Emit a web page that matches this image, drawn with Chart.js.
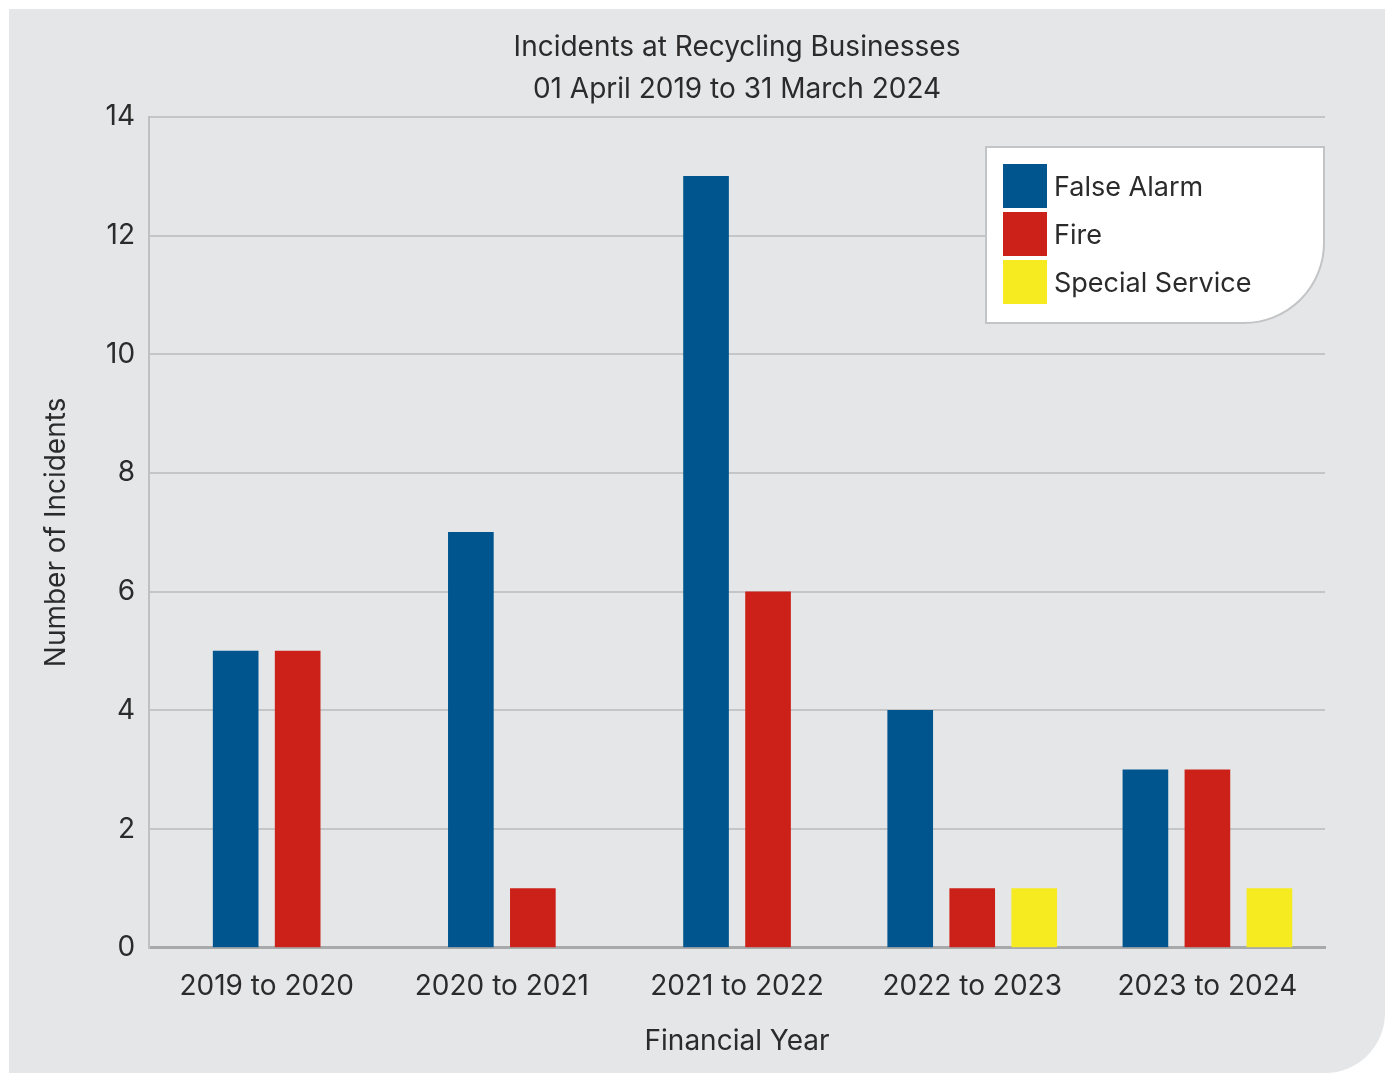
<!DOCTYPE html>
<html>
<head>
<meta charset="utf-8">
<script src="https://cdn.jsdelivr.net/npm/chart.js@4"></script>
<style>
  body { margin: 0; background: #ffffff; }
  #panel {
    position: absolute; left: 9px; top: 9px; width: 1376px; height: 1064px;
    background: #e5e6e8; border-bottom-right-radius: 60px; overflow: hidden;
  }
</style>
</head>
<body>
<div id="panel"><canvas id="myChart"></canvas></div>
<script>
var years = ['2019 to 2020', '2020 to 2021', '2021 to 2022', '2022 to 2023', '2023 to 2024'];
var false_alarm = [5, 7, 13, 4, 3];
var fire = [5, 1, 6, 1, 3];
var special_service = [null, null, null, 1, 1];
var series_names = ['False Alarm', 'Fire', 'Special Service'];
var series_colours = ['#00558e', '#cc2119', '#f5eb20'];
var title_lines = ['Incidents at Recycling Businesses', '01 April 2019 to 31 March 2024'];

var font_family = 'Inter, Roboto, sans-serif';
var text_colour = '#2b2b2b';

// legend drawn as a white box with a rounded bottom-right corner
var boxLegend = {
    id: 'boxLegend',
    afterDraw: function(chart) {
        var ctx = chart.ctx;
        var area = chart.chartArea;
        var w = 338, h = 176;
        var x = area.right - w - 1, y = area.top + 30;
        ctx.save();
        ctx.beginPath();
        ctx.roundRect(x, y, w, h, [0, 0, 80, 0]);
        ctx.fillStyle = '#ffffff';
        ctx.fill();
        ctx.lineWidth = 2;
        ctx.strokeStyle = '#c3c4c6';
        ctx.stroke();
        ctx.font = '27px ' + font_family;
        ctx.textBaseline = 'middle';
        for (var i = 0; i < series_names.length; i++) {
            var sy = y + 17 + i * 48;
            ctx.fillStyle = series_colours[i];
            ctx.fillRect(x + 17, sy, 44, 44);
            ctx.fillStyle = text_colour;
            ctx.fillText(series_names[i], x + 68, sy + 24);
        }
        ctx.restore();
    }
};

var ctx = document.getElementById('myChart').getContext('2d');
var chart = new Chart(ctx, {
    type: 'bar',
    data: {
        labels: years,
        datasets: [
            { label: series_names[0], data: false_alarm, backgroundColor: series_colours[0] },
            { label: series_names[1], data: fire, backgroundColor: series_colours[1] },
            { label: series_names[2], data: special_service, backgroundColor: series_colours[2] }
        ]
    },
    options: {
        responsive: true,
        maintainAspectRatio: false,
        animation: false,
        skipNull: true,
        barThickness: 62,
        maxBarThickness: 45,
        layout: { padding: { left: 27, right: 60, bottom: 11, top: 0 } },
        plugins: {
            legend: { display: false },
            tooltip: { enabled: false },
            title: {
                display: true,
                fullSize: false,
                text: title_lines,
                color: text_colour,
                font: { family: font_family, size: 28, weight: 'normal', lineHeight: 1.5 },
                padding: { top: 18, bottom: 6 }
            }
        },
        scales: {
            x: {
                grid: { display: false },
                border: { color: '#a8a9ab', width: 3 },
                ticks: { color: text_colour, font: { family: font_family, size: 28 }, padding: 14 },
                title: {
                    display: true, text: 'Financial Year', color: text_colour,
                    font: { family: font_family, size: 28 }, padding: { top: 7 }
                }
            },
            y: {
                min: 0, max: 14,
                ticks: { stepSize: 2, color: text_colour, font: { family: font_family, size: 28 }, padding: 14 },
                grid: { color: '#c4c5c7', lineWidth: 2, drawTicks: false },
                border: { color: '#bfc0c2', width: 2 },
                title: {
                    display: true, text: 'Number of Incidents', color: text_colour,
                    font: { family: font_family, size: 28 }, padding: { bottom: 18 }
                }
            }
        }
    },
    plugins: [boxLegend]
});
</script>
</body>
</html>
